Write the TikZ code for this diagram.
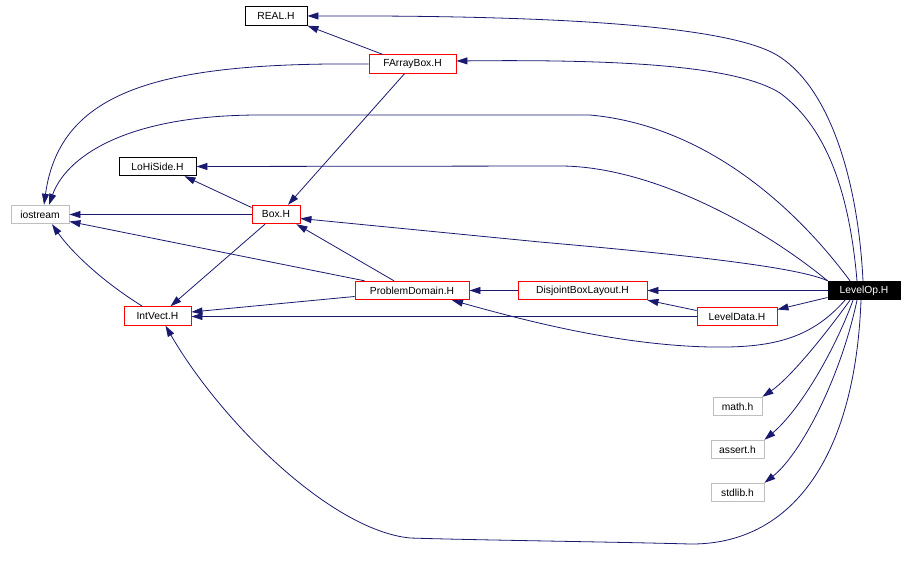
\documentclass[tikz,border=0pt]{standalone}
\usepackage{fontspec}
\setmainfont{Liberation Sans}
\usetikzlibrary{arrows.meta}
\definecolor{edgeblue}{HTML}{191970}
\definecolor{boxgray}{HTML}{BFBFBF}
\tikzset{
  file/.style={draw, rectangle, line width=0.9pt, inner sep=0pt, minimum height=18.5pt, font=\fontsize{10.3}{12}\selectfont},
  redfile/.style={file, draw=red},
  blackfile/.style={file, draw=black},
  grayfile/.style={file, draw=boxgray},
  mainfile/.style={file, draw=black, fill=black, text=white},
  dep/.style={draw=edgeblue, line width=0.8pt, -{Triangle[length=11pt,width=7pt]}}
}
\begin{document}
\begin{tikzpicture}[x=1pt,y=-1pt]
\useasboundingbox (0,0) rectangle (914,562);
% nodes
\node[blackfile, minimum width=62pt] (real) at (276,16) {REAL.H};
\node[redfile, minimum width=87pt] (fab) at (412.5,64) {FArrayBox.H};
\node[blackfile, minimum width=77pt] (lohi) at (157.5,166.5) {LoHiSide.H};
\node[grayfile, minimum width=58pt] (ios) at (40,214.5) {iostream};
\node[redfile, minimum width=48pt] (box) at (276,214.5) {Box.H};
\node[redfile, minimum width=114pt] (pd) at (412,290.5) {ProblemDomain.H};
\node[redfile, minimum width=129pt] (dbl) at (582.5,290.5) {DisjointBoxLayout.H};
\node[redfile, minimum width=80pt] (ld) at (737,316.5) {LevelData.H};
\node[redfile, minimum width=67pt] (iv) at (157.5,316) {IntVect.H};
\node[mainfile, minimum width=72pt] (lop) at (864,290.5) {LevelOp.H};
\node[grayfile, minimum width=49pt] (math) at (737.5,406.5) {math.h};
\node[grayfile, minimum width=53pt] (assert) at (737.5,449.5) {assert.h};
\node[grayfile, minimum width=53pt] (stdlib) at (737.5,492.5) {stdlib.h};
% edges
\draw[dep] ([xshift=-30pt]fab.north) -- (real.south east);
\draw[dep] ([xshift=-1pt]lop.north) .. controls (858,180) and (830,90) .. (780,57)
  .. controls (740,30) and (600,15) .. (real.east);
\draw[dep] ([xshift=-7pt]lop.north) .. controls (850,200) and (830,130) .. (780,93)
  .. controls (740,68) and (640,59) .. ([yshift=3pt]fab.east);
\draw[dep] (fab.west) .. controls (160,62) and (60,90) .. ([xshift=4pt]ios.north);
\draw[dep] ([xshift=-14pt]lop.north) .. controls (790,200) and (700,125) .. (590,115)
  -- (260,115) .. controls (120,115) and (65,160) .. ([xshift=9pt]ios.north);
\draw[dep] ([xshift=-8pt]fab.south) -- ([xshift=12pt]box.north);
\draw[dep] (lop.north west) .. controls (760,225) and (650,166) .. (560,166) -- (lohi.east);
\draw[dep] ([yshift=7pt]box.west) -- ([xshift=27pt]lohi.south);
\draw[dep] (box.west) -- (ios.east);
\draw[dep] (lop.north west) .. controls (800,268) and (700,256) .. (540,242) -- ([yshift=-4pt]box.east);
\draw[dep] ([xshift=-18pt]pd.north) -- ([xshift=-4pt]box.south east);
\draw[dep] ([xshift=10pt]pd.north west) -- ([yshift=-7pt]ios.east);
\draw[dep] ([xshift=-11pt]box.south) -- ([xshift=13pt]iv.north);
\draw[dep] ([xshift=-15pt]iv.north) .. controls (100,280) and (70,250) .. ([xshift=12pt]ios.south);
\draw[dep] ([yshift=-6pt]pd.west) -- ([yshift=4pt]iv.east);
\draw[dep] (ld.west) -- ([yshift=-0.5pt]iv.east);
\draw[dep] (dbl.west) -- (pd.east);
\draw[dep] (lop.west) -- (dbl.east);
\draw[dep] ([yshift=6pt]ld.west) -- (dbl.south east);
\draw[dep] ([yshift=-7pt]lop.west) -- ([yshift=7pt]ld.east);
\draw[dep] ([xshift=-19pt]lop.south) .. controls (810,340) and (770,348) .. (710,347)
  .. controls (620,345) and (530,322) .. ([xshift=40pt]pd.south);
\draw[dep] ([xshift=-14pt]lop.south) .. controls (825,335) and (790,378) .. (math.north east);
\draw[dep] ([xshift=-11pt]lop.south) .. controls (835,350) and (800,410) .. (assert.north east);
\draw[dep] ([xshift=-7pt]lop.south) .. controls (840,380) and (800,455) .. (stdlib.north east);
\draw[dep] ([xshift=-3pt]lop.south) .. controls (855,460) and (790,545) .. (690,544)
  .. controls (620,542) and (470,540) .. (410,538)
  .. controls (330,530) and (220,420) .. ([xshift=8pt]iv.south);
\end{tikzpicture}
\end{document}
